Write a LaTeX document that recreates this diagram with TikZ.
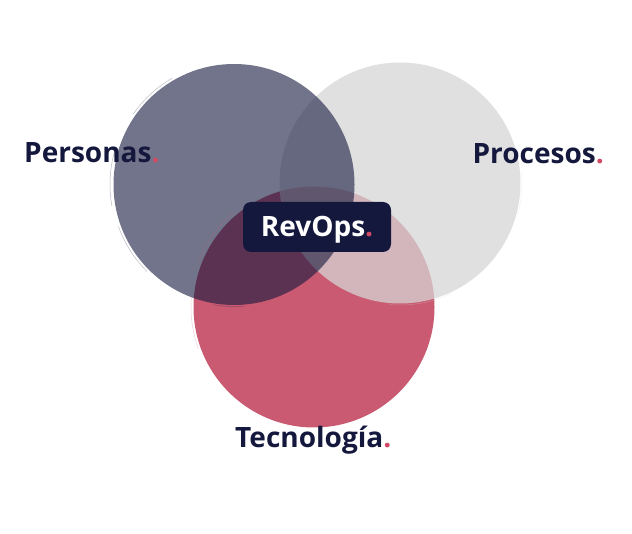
\documentclass[tikz,border=0pt]{standalone}
\usepackage{fontspec}
\setmainfont{Open Sans}
\usetikzlibrary{positioning}
\definecolor{navy}{HTML}{14183D}
\definecolor{dotred}{HTML}{D04A66}
\definecolor{rosa}{HTML}{C95A72}
\definecolor{gris}{HTML}{D6D6D6}
\newcommand{\pt}{{\color{dotred}.}}
\tikzset{
  blob/.style={circle, minimum size=241pt, inner sep=0pt},
  brush/.style={line width=0.5pt, opacity=0.3},
  etiqueta/.style={font=\fontsize{28}{30}\selectfont\bfseries, text=navy, inner sep=0pt},
}

\begin{document}
\begin{tikzpicture}[x=1pt,y=-1pt]
  \useasboundingbox (0,0) rectangle (632,534); % page frame

  \node[blob, fill=rosa] (tec) at (314,307) {};                      % Tecnologia
  \node[blob, fill=gris, fill opacity=0.75] (proc) at (400,183) {};   % Procesos
  \node[blob, fill=navy, fill opacity=0.6] (pers) at (234,184.5) {};  % Personas

  % brush edges
  \draw[brush, navy] (pers.center) +(135:123) arc(135:160:123);
  \draw[brush, navy] (pers.center) +(170:124) arc(170:195:124);
  \draw[brush, navy] (pers.center) +(215:123) arc(215:240:123);
  \draw[brush, navy] (pers.center) +(85:122) arc(85:100:122);
  \draw[brush, rosa] (tec.center) +(160:123) arc(160:185:123);
  \draw[brush, rosa] (tec.center) +(200:124) arc(200:230:124);
  \draw[brush, gris] (proc.center) +(65:122) arc(65:95:122);
  \draw[brush, gris] (proc.center) +(-5:122) arc(-5:15:122);

  \node[etiqueta, anchor=base west] (lpers) at (24,163) {Personas\pt};
  \node[etiqueta, anchor=base east] (lproc) at (604,164) {Procesos\pt};
  \node[etiqueta, anchor=base west] (ltec) at (235,447) {Tecnología\pt};

  \node[etiqueta, fill=navy, rounded corners=8pt, minimum width=148pt, minimum height=50pt,
        text=white, text height=20pt, text depth=0pt] (rev) at (317,227) {RevOps\pt};
\end{tikzpicture}
\end{document}
